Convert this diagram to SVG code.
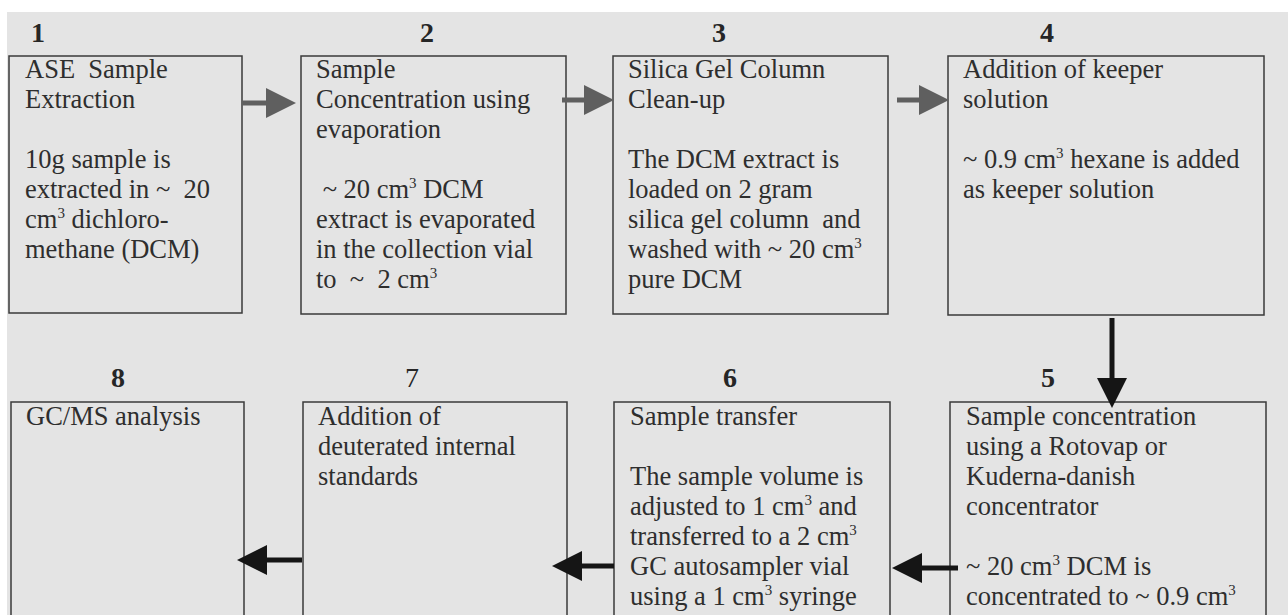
<svg xmlns="http://www.w3.org/2000/svg" width="1288" height="615" viewBox="0 0 1288 615">
<style>
.box{fill:none;stroke:#3a3a3a;stroke-width:1.5}
.t{font-family:"Liberation Serif","Times New Roman",serif;font-size:26.5px;fill:#2e2e2e}
.num{font-family:"Liberation Serif","Times New Roman",serif;font-size:28px;font-weight:bold;fill:#262626;text-anchor:middle}
.sup{font-size:15px}
.g{stroke:#5f5f5f;stroke-width:5;fill:none}
.k{stroke:#151515;stroke-width:5;fill:none}
</style>
<defs>
<marker id="hg" markerUnits="userSpaceOnUse" markerWidth="30" markerHeight="30" viewBox="0 0 30 30" refX="0" refY="15" orient="auto"><path d="M0,0 L30,15 L0,30 z" fill="#5f5f5f"/></marker>
<marker id="hk" markerUnits="userSpaceOnUse" markerWidth="30" markerHeight="30" viewBox="0 0 30 30" refX="0" refY="15" orient="auto"><path d="M0,0 L30,15 L0,30 z" fill="#151515"/></marker>
</defs>
<rect x="0" y="0" width="1288" height="615" fill="#ffffff"/>
<rect x="7" y="12" width="1281" height="603" fill="#e4e4e4"/>

<g id="node1">
<text class="num" x="38" y="42">1</text>
<rect class="box" x="9" y="56" width="233" height="257"/>
<text class="t" x="25" y="78" xml:space="preserve">ASE  Sample</text>
<text class="t" x="25" y="108">Extraction</text>
<text class="t" x="25" y="168">10g sample is</text>
<text class="t" x="25" y="198" xml:space="preserve">extracted in ~  20</text>
<text class="t" x="25" y="228">cm<tspan class="sup" dy="-10">3</tspan><tspan dy="10"> dichloro-</tspan></text>
<text class="t" x="25" y="258">methane (DCM)</text>
</g>

<g id="node2">
<text class="num" x="427" y="42">2</text>
<rect class="box" x="301" y="56" width="265" height="258"/>
<text class="t" x="316" y="78">Sample</text>
<text class="t" x="316" y="108">Concentration using</text>
<text class="t" x="316" y="138">evaporation</text>
<text class="t" x="316" y="198" xml:space="preserve"> ~ 20 cm<tspan class="sup" dy="-10">3</tspan><tspan dy="10"> DCM</tspan></text>
<text class="t" x="316" y="228">extract is evaporated</text>
<text class="t" x="316" y="258">in the collection vial</text>
<text class="t" x="316" y="288" xml:space="preserve">to  ~  2 cm<tspan class="sup" dy="-10">3</tspan></text>
</g>

<g id="node3">
<text class="num" x="719" y="42">3</text>
<rect class="box" x="613" y="56" width="275" height="258"/>
<text class="t" x="628" y="78">Silica Gel Column</text>
<text class="t" x="628" y="108">Clean-up</text>
<text class="t" x="628" y="168">The DCM extract is</text>
<text class="t" x="628" y="198">loaded on 2 gram</text>
<text class="t" x="628" y="228" xml:space="preserve">silica gel column  and</text>
<text class="t" x="628" y="258">washed with ~ 20 cm<tspan class="sup" dy="-10">3</tspan></text>
<text class="t" x="628" y="288">pure DCM</text>
</g>

<g id="node4">
<text class="num" x="1047" y="42">4</text>
<rect class="box" x="948" y="56" width="316" height="259"/>
<text class="t" x="963" y="78">Addition of keeper</text>
<text class="t" x="963" y="108">solution</text>
<text class="t" x="963" y="168">~ 0.9 cm<tspan class="sup" dy="-10">3</tspan><tspan dy="10"> hexane is added</tspan></text>
<text class="t" x="963" y="198">as keeper solution</text>
</g>

<g id="node5">
<text class="num" x="1048" y="387">5</text>
<rect class="box" x="950" y="402" width="316" height="230"/>
<text class="t" x="966" y="425">Sample concentration</text>
<text class="t" x="966" y="455">using a Rotovap or</text>
<text class="t" x="966" y="485">Kuderna-danish</text>
<text class="t" x="966" y="515">concentrator</text>
<text class="t" x="966" y="575">~ 20 cm<tspan class="sup" dy="-10">3</tspan><tspan dy="10"> DCM is</tspan></text>
<text class="t" x="966" y="605">concentrated to ~ 0.9 cm<tspan class="sup" dy="-10">3</tspan></text>
</g>

<g id="node6">
<text class="num" x="730" y="387">6</text>
<rect class="box" x="614" y="402" width="276" height="230"/>
<text class="t" x="630" y="425">Sample transfer</text>
<text class="t" x="630" y="485">The sample volume is</text>
<text class="t" x="630" y="515">adjusted to 1 cm<tspan class="sup" dy="-10">3</tspan><tspan dy="10"> and</tspan></text>
<text class="t" x="630" y="545">transferred to a 2 cm<tspan class="sup" dy="-10">3</tspan></text>
<text class="t" x="630" y="575">GC autosampler vial</text>
<text class="t" x="630" y="605">using a 1 cm<tspan class="sup" dy="-10">3</tspan><tspan dy="10"> syringe</tspan></text>
</g>

<g id="node7">
<text class="num" x="412" y="387" style="font-weight:normal">7</text>
<rect class="box" x="303" y="402" width="264" height="230"/>
<text class="t" x="318" y="425">Addition of</text>
<text class="t" x="318" y="455">deuterated internal</text>
<text class="t" x="318" y="485">standards</text>
</g>

<g id="node8">
<text class="num" x="118" y="387">8</text>
<rect class="box" x="11" y="402" width="233" height="230"/>
<text class="t" x="26" y="425">GC/MS analysis</text>
</g>

<g id="connectors">
<line class="g" x1="242" y1="103" x2="266" y2="103" marker-end="url(#hg)"/>
<line class="g" x1="562" y1="100" x2="584" y2="100" marker-end="url(#hg)"/>
<line class="g" x1="897" y1="100" x2="919" y2="100" marker-end="url(#hg)"/>
<line class="k" x1="1112" y1="318" x2="1112" y2="378" marker-end="url(#hk)"/>
<line class="k" x1="958" y1="568" x2="922" y2="568" marker-end="url(#hk)"/>
<line class="k" x1="614" y1="566" x2="582" y2="566" marker-end="url(#hk)"/>
<line class="k" x1="302" y1="560" x2="267" y2="560" marker-end="url(#hk)"/>
</g>
</svg>
